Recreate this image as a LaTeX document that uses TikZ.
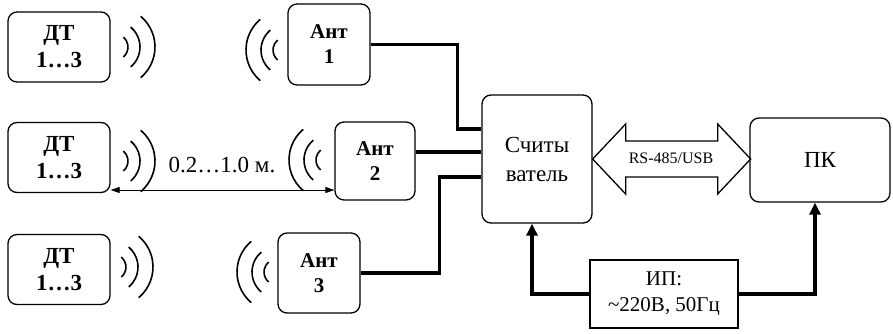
\documentclass[tikz,border=0pt]{standalone}
\usepackage{fontspec}
\setmainfont{Liberation Serif}
\usetikzlibrary{calc,arrows.meta}
\tikzset{
  rbox/.style={draw, line width=1.3pt, rounded corners=9pt, align=center, inner sep=0pt},
  dtbox/.style={rbox, minimum width=102pt, minimum height=70pt, font=\fontsize{23}{27}\selectfont\bfseries},
  antbox/.style={rbox, font=\fontsize{21}{25}\selectfont\bfseries},
  sqbox/.style={draw, line width=1.3pt, align=center, inner sep=0pt},
  conn/.style={line width=3.6pt},
  pconn/.style={line width=3.6pt, -{Triangle[length=12pt,width=11pt]}},
  dim/.style={line width=0.8pt, {Triangle[length=9pt,width=6pt]}-{Triangle[length=9pt,width=6pt]}},
  wave/.style={line width=1.6pt},
  waves/.pic={
    \draw[wave] (-13pt,0pt) ++(-50:13pt) arc[start angle=-50,end angle=50,radius=13pt];
    \draw[wave] (-14pt,0pt) ++(-50:26pt) arc[start angle=-50,end angle=50,radius=26pt];
    \draw[wave] (-13pt,0pt) ++(-50:40pt) arc[start angle=-50,end angle=50,radius=40pt];
  }
}
\begin{document}
\begin{tikzpicture}[x=1pt,y=-1pt]
\useasboundingbox (0,0) rectangle (893,333);
% sensors
\node[dtbox] (dt1) at (59,47) {ДТ\\1…3};
\node[dtbox] (dt2) at (59,157.5) {ДТ\\1…3};
\node[dtbox] (dt3) at (59,269.5) {ДТ\\1…3};
% antennas
\node[antbox, minimum width=82pt, minimum height=81pt] (ant1) at (329,44.5) {Ант\\1};
\node[antbox, minimum width=80pt, minimum height=78pt] (ant2) at (375,161) {Ант\\2};
\node[antbox, minimum width=82pt, minimum height=80pt] (ant3) at (319,273) {Ант\\3};
% reader, PC, PSU
\node[rbox, minimum width=110pt, minimum height=128pt, font=\fontsize{23}{29}\selectfont] (reader) at (537,159) {Считы\\ватель};
\node[rbox, minimum width=140pt, minimum height=84pt, font=\fontsize{23}{27}\selectfont] (pk) at (820,160) {ПК};
\node[sqbox, minimum width=148pt, minimum height=68pt, font=\fontsize{21}{26}\selectfont] (psu) at (664,294) {ИП:\\\textasciitilde220В, 50Гц};
% waves
\pic at (128,47) {waves};
\pic at (128,161) {waves};
\pic at (126,267) {waves};
\pic[xscale=-1] at (273,50) {waves};
\pic[xscale=-1] at (316,160) {waves};
\pic[xscale=-1] at (264,272) {waves};
% distance
\node[font=\fontsize{23}{27}\selectfont, inner sep=0pt] (dist) at (222,165) {0.2…1.0 м.};
\coordinate (dimy) at (0,190);
\draw[dim] (dt2.east |- dimy) -- (ant2.west |- dimy);
% antenna connections
\coordinate (r1) at ($(reader.west)+(0,-30)$);
\coordinate (r2) at ($(reader.west)+(0,-7)$);
\coordinate (r3) at ($(reader.west)+(0,18)$);
\draw[conn] (ant1.east) -| ($(r1)+(-24,0)$) -- (r1);
\draw[conn] (ant2.east |- r2) -- (r2);
\draw[conn] (r3) -- ++(-42,0) |- (ant3.east);
% RS-485/USB arrow
\draw[line width=1.3pt, line join=miter] (reader.east) -- ++(33,-35) -- ++(0,17) -- ++(92,0) -- ++(0,-17) -- ++(33,35) -- ++(-33,35) -- ++(0,-17) -- ++(-92,0) -- ++(0,17) -- cycle;
\node[font=\fontsize{16}{18}\selectfont, inner sep=0pt] (rs) at (671,158) {RS-485/USB};
% power
\draw[pconn] (psu.west) -| ($(reader.south)+(-5,0)$);
\draw[pconn] (psu.east) -| ($(pk.south)+(-5,0)$);
\end{tikzpicture}
\end{document}
